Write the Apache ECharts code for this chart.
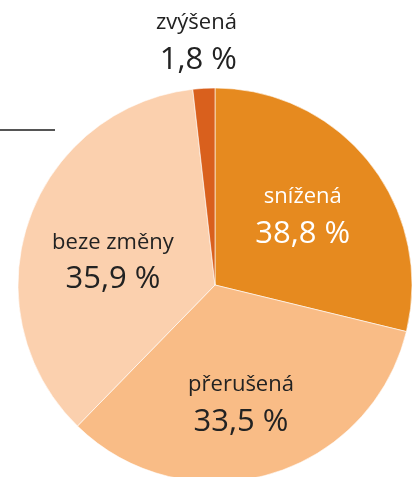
<!DOCTYPE html>
<html>
<head>
<meta charset="utf-8">
<script src="https://cdn.jsdelivr.net/npm/echarts@6/dist/echarts.min.js"></script>
<style>
  html, body { margin: 0; padding: 0; background: #fff; }
  #chart { width: 413px; height: 477px; }
</style>
</head>
<body>
<div id="chart"></div>
<script>
// slice order clockwise from 12 o'clock
const categories = ['snížená', 'přerušená', 'beze změny', 'zvýšená']
// shares
const shares = [28.8, 33.5, 35.9, 1.8]
// percent labels as printed on the chart
const shareLabels = ['38,8 %', '33,5 %', '35,9 %', '1,8 %']

const colors = ['#E68A1F', '#F9BC86', '#FBD0AE', '#D9601D']
const textColors = ['#ffffff', '#222222', '#222222', '#222222']
// small nudges to match label placement
const labelShift = [[8, -7], [-2, 21], [-6, 9], [33, -47]]

const chart = echarts.init(document.getElementById('chart'))

const option = {
  animation: false,
  graphic: [
    {
      type: 'line',
      shape: { x1: 0, y1: 130, x2: 55, y2: 130 },
      style: { stroke: '#555555', lineWidth: 2 }
    }
  ],
  series: [
    {
      type: 'pie',
      center: [215, 285],
      radius: 197,
      startAngle: 90,
      clockwise: true,
      itemStyle: {
        borderColor: '#ffffff',
        borderWidth: 0.6
      },
      labelLine: { show: false },
      label: {
        position: 'inside',
        fontFamily: 'Open Sans',
        formatter: (p) => `{n|${p.name}}\n{v|${shareLabels[p.dataIndex]}}`,
        rich: {
          n: { fontSize: 22, lineHeight: 37, fontFamily: 'Open Sans' },
          v: { fontSize: 31, lineHeight: 37, fontFamily: 'Open Sans', fontWeight: 500 }
        }
      },
      labelLayout: (params) => {
        const s = labelShift[params.dataIndex]
        return { dx: s[0], dy: s[1] }
      },
      data: categories.map((name, i) => {
        const item = {
          name,
          value: shares[i],
          itemStyle: { color: colors[i] },
          label: {
            color: textColors[i],
            rich: {
              n: { color: textColors[i] },
              v: { color: textColors[i] }
            }
          }
        }
        if (name === 'zvýšená') {
          item.label.position = 'outside'
          item.label.distanceToLabelLine = 0
          item.labelLine = { show: false, length: 0, length2: 0 }
        }
        return item
      })
    }
  ]
}

chart.setOption(option)
</script>
</body>
</html>
